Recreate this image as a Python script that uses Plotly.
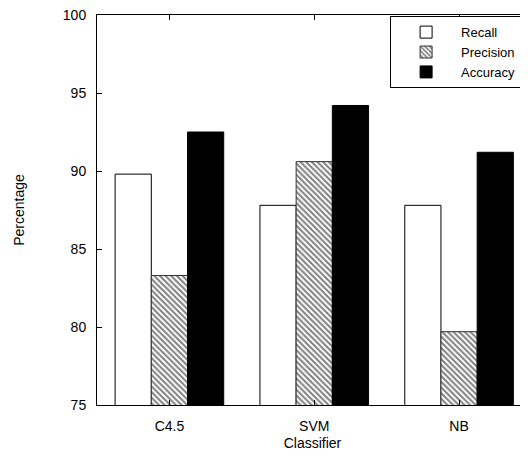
import plotly.graph_objects as go

categories = ["C4.5", "SVM", "NB"]
recall = [89.8, 87.8, 87.8]
precision = [83.3, 90.6, 79.7]
accuracy = [92.5, 94.2, 91.2]
y_ticks = [75, 80, 85, 90, 95, 100]

FONT = "Liberation Sans, Arial, Helvetica, sans-serif"

fig = go.Figure()
fig.add_trace(go.Bar(
    x=categories, y=recall, name="Recall",
    marker=dict(color="white", line=dict(color="black", width=1)),
))
fig.add_trace(go.Bar(
    x=categories, y=precision, name="Precision",
    marker=dict(color="white", line=dict(color="#333333", width=1),
                pattern=dict(shape="\\", fgcolor="black", bgcolor="white",
                             size=4, solidity=0.5)),
))
fig.add_trace(go.Bar(
    x=categories, y=accuracy, name="Accuracy",
    marker=dict(color="black", line=dict(color="black", width=1)),
))

fig.update_layout(
    width=520, height=443,
    margin=dict(l=89, r=0, t=7, b=46, autoexpand=False),
    paper_bgcolor="white", plot_bgcolor="white",
    barmode="group", bargap=0.25, bargroupgap=0,
    font=dict(family=FONT, size=14, color="black"),
    showlegend=True,
    legend=dict(
        x=0.984, y=0.997, xanchor="right", yanchor="top",
        bordercolor="black", borderwidth=1, bgcolor="white",
        font=dict(family=FONT, size=13, color="black"),
        tracegroupgap=0, itemwidth=60,
    ),
)
fig.update_xaxes(
    type="category", range=[-0.5, 2.476], automargin=False,
    showline=True, linecolor="black", linewidth=1, mirror="ticks",
    ticks="inside", ticklen=5, tickcolor="black",
    tickfont=dict(family=FONT, size=14), ticklabelstandoff=8,
    ticklabeloverflow="allow",
    title=dict(text="Classifier", font=dict(family=FONT, size=14), standoff=6),
    showgrid=False, zeroline=False,
)
fig.update_yaxes(
    range=[75, 100], tickvals=y_ticks, automargin=False,
    showline=True, linecolor="black", linewidth=1, mirror="ticks",
    ticks="inside", ticklen=5, tickcolor="black",
    tickfont=dict(family=FONT, size=14), ticklabelstandoff=7,
    ticklabeloverflow="allow",
    title=dict(text="Percentage", font=dict(family=FONT, size=14), standoff=34),
    showgrid=False, zeroline=False,
)

fig.write_html("out.html")
